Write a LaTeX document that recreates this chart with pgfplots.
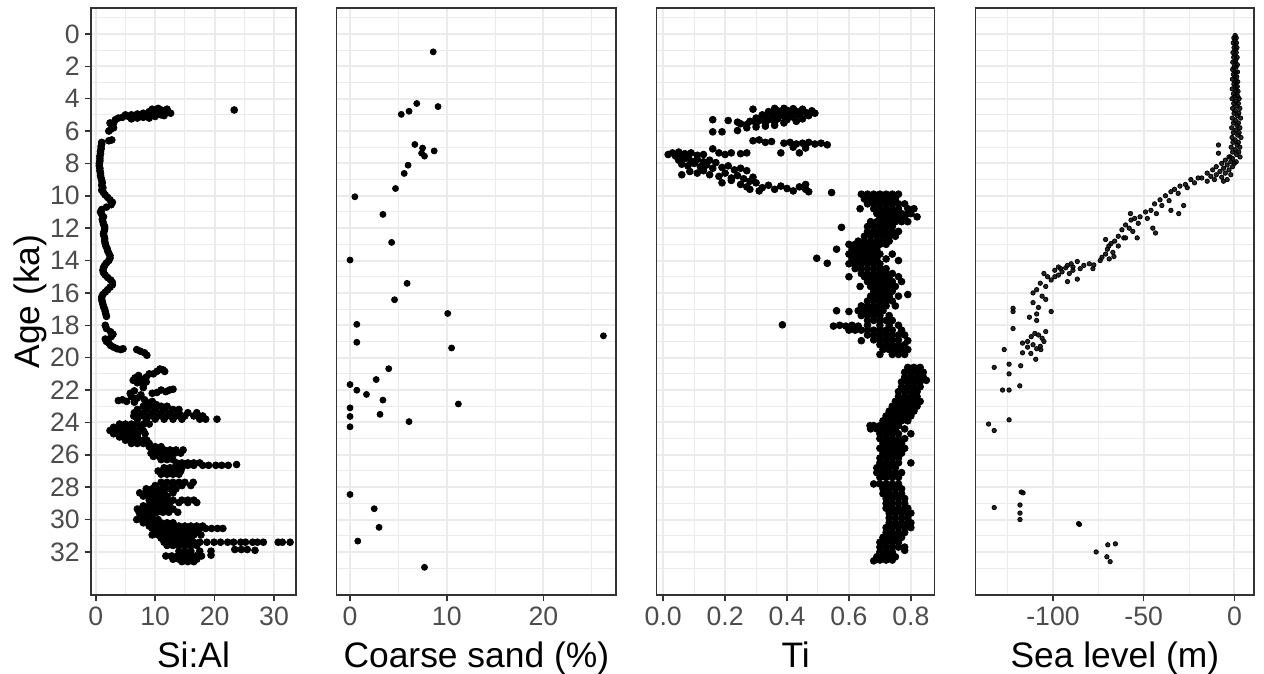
\documentclass[border=0pt]{standalone}
\usepackage{fontspec}
\setmainfont{Liberation Sans}
\usepackage{pgfplots}
\pgfplotsset{compat=1.18}

\definecolor{gridc}{gray}{0.92}
\definecolor{framec}{gray}{0.2}
\definecolor{tickc}{gray}{0.3}

\pgfplotsset{
  panel/.style={
    scale only axis, anchor=south west, height=293.5pt,
    y dir=reverse, ymin=-1.6, ymax=34.66,
    ytick={0,2,...,32}, minor ytick={-1,1,...,33},
    grid=both,
    major grid style={color=gridc, line width=1pt},
    minor grid style={color=gridc, line width=0.5pt},
    axis line style={color=framec, line width=0.75pt},
    tick align=outside, major tick length=3pt, minor tick length=0pt,
    tick style={color=framec, line width=0.75pt},
    xtick pos=bottom, ytick pos=left,
    ticklabel style={font=\fontsize{13.3}{15}\selectfont, text=tickc},
    yticklabel style={inner sep=2.5pt},
    xticklabel style={inner sep=3pt},
    label style={font=\fontsize{17.7}{21}\selectfont},
    xlabel style={at={(axis description cs:0.5,0)}, anchor=base, yshift=-36pt},
    ylabel style={at={([xshift=-30.5pt]axis description cs:0,0.5)}, anchor=center},
  },
  noy/.style={yticklabels={}, ytick style={draw=none}},
  pts/.style={only marks, mark=*, mark size=1.7pt, mark options={draw=none, fill=black}},
}

\begin{document}
\begin{tikzpicture}

% Si:Al
\begin{axis}[panel, at={(45.5pt,39.5pt)}, width=102.5pt,
  xmin=-0.8, xmax=33.7, xtick={0,10,20,30}, xticklabels={0,10,20,30}, minor xtick={5,15,25},
  yticklabels={0,2,4,6,8,10,12,14,16,18,20,22,24,26,28,30,32},
  xlabel={Si:Al}, ylabel={Age (ka)}]
\addplot[pts] coordinates {
(23.3,4.7)
(3.0,5.5)(3.3,5.3)(3.8,5.2)(4.5,5.15)(5.0,5.0)(5.5,5.1)(6.0,5.0)(6.5,5.05)(7.0,4.95)(7.5,5.1)
(8.0,4.9)(8.5,5.0)(9.0,4.8)(9.5,4.9)(10.0,4.75)(10.5,4.85)(11.0,4.7)(11.5,4.8)(12.0,4.75)(12.6,4.9)
(8.0,5.15)(9.0,5.2)(10.0,5.1)(11.0,5.0)(9.5,4.65)(10.5,4.6)(12.0,4.65)(7.0,5.2)(6.0,5.25)(11.5,5.05)
(2.4,5.5)(2.8,5.7)(2.5,5.9)(3.0,5.8)(2.2,6.0)
(2.7,6.55)(1.0,6.7)(2.2,6.6)
(1.0,6.8)(0.9,6.95)(0.9,7.1)(0.8,7.25)(0.8,7.4)(0.7,7.55)(0.7,7.7)(0.7,7.85)(0.6,8.0)(0.6,8.15)
(0.7,8.3)(0.7,8.45)(0.8,8.6)(0.8,8.75)(0.9,8.9)(1.0,9.05)(1.1,9.2)(1.0,9.35)(1.2,9.5)(1.0,9.65)
(1.3,9.8)(1.6,9.95)(2.0,10.1)(2.4,10.25)(2.8,10.4)(2.6,10.55)(1.8,10.7)(1.0,10.85)(0.8,11.0)(1.0,11.15)
(1.3,11.3)(1.1,11.45)(1.2,11.6)(1.3,11.75)(1.5,11.9)(1.5,12.05)(1.4,12.2)(1.3,12.35)(1.4,12.5)(1.5,12.65)
(1.5,12.8)(1.6,12.95)(1.7,13.1)(1.9,13.25)(2.0,13.4)(2.2,13.55)(2.4,13.7)(2.4,13.85)(2.2,14.0)(1.8,14.15)
(1.5,14.3)(1.3,14.45)(1.2,14.6)(1.3,14.75)(1.6,14.9)(2.0,15.05)(2.5,15.2)(2.8,15.35)(2.8,15.5)(2.4,15.65)
(2.0,15.8)(1.6,15.95)(1.2,16.1)(1.0,16.25)(1.0,16.4)(1.1,16.55)(1.2,16.7)(1.3,16.85)(1.5,17.0)(1.6,17.15)
(1.7,17.3)(1.8,17.45)
(1.6,18.0)(1.8,18.2)(2.5,18.4)(2.9,18.55)(2.6,18.7)(1.6,18.85)(1.8,19.0)(2.2,19.1)(2.5,19.25)(3.0,19.35)
(3.6,19.45)(4.2,19.5)(4.6,19.45)
(6.9,19.5)(7.5,19.6)(8.2,19.7)(8.6,19.85)
(9.7,21.0)(10.3,20.85)(10.8,20.7)(11.3,20.75)(11.6,20.85)
(6.3,21.4)(6.6,21.25)(7.0,21.55)(7.5,21.3)(8.0,21.7)(8.5,21.5)(8.0,21.85)(7.2,21.1)(8.5,21.2)(9.0,21.0)
(10.3,22.15)(11.0,22.0)(11.8,22.1)(12.4,22.0)(13.0,21.95)(9.5,22.2)
(3.8,22.65)(4.5,22.6)(5.2,22.7)(6.0,22.4)(6.5,22.75)(7.0,22.5)(7.6,22.3)(8.2,22.6)(8.8,22.8)(9.5,22.7)
(10.2,22.9)(5.8,22.2)(6.5,22.05)
(8,23.0)(9,23.0)(10,23.0)(11,23.0)(12,23.0)
(7,23.2)(8.5,23.2)(10,23.2)(11.5,23.2)(13,23.2)(14,23.2)
(6.5,23.4)(8,23.4)(9.5,23.4)(11,23.4)(12.5,23.4)(14,23.4)(15.5,23.4)(17,23.4)
(6.4,23.6)(7.5,23.6)(9,23.6)(10.5,23.6)(12,23.6)(13.5,23.6)(15,23.6)(16.5,23.6)(18,23.6)
(7,23.8)(8.5,23.8)(10,23.8)(11.5,23.8)(13,23.8)(14.5,23.8)(17.5,23.8)(18.5,23.8)(20.4,23.8)
(4,24.1)(5,24.1)(6,24.1)(7,24.1)(8,24.1)(9,24.1)
(3,24.3)(4,24.3)(5,24.3)(6,24.3)(7.5,24.3)
(2.4,24.5)(3.5,24.5)(4.5,24.5)(5.5,24.5)(6.5,24.5)(8,24.5)
(3,24.7)(4,24.7)(5,24.7)(6,24.7)(7,24.7)(8.3,24.7)
(4,24.9)(5,24.9)(6,24.9)(7,24.9)
(5,25.1)(6,25.1)(7,25.1)(8,25.1)(8.6,25.1)
(6,25.3)(7,25.3)(8,25.3)(9,25.3)
(9,25.5)(10,25.5)(11,25.5)
(9.5,25.7)(10.5,25.7)(11.5,25.7)(12.5,25.7)(13.5,25.7)(14.7,25.7)
(9.3,25.9)(10.3,25.9)(11.3,25.9)(12.3,25.9)(13.3,25.9)(14.3,25.9)
(9.7,26.1)(10.7,26.1)(11.7,26.1)(12.7,26.1)
(11,26.3)(12,26.3)(13,26.3)
(13.6,26.5)(14.5,26.5)(15.5,26.5)(16.5,26.5)(17.5,26.5)
(13.5,26.65)(14.5,26.65)(15.5,26.65)(16.5,26.65)(18.0,26.65)(19.0,26.65)(20.2,26.65)(21.2,26.65)(22.3,26.65)(23.7,26.6)
(11.5,26.8)(12.5,26.8)(14.5,26.8)
(10.5,27.0)(11.5,27.0)(12.5,27.0)(13.5,27.0)(14.3,27.0)
(11,27.2)(12,27.2)(13,27.2)(14,27.2)
(11,27.7)(12,27.7)(13,27.7)(14,27.7)(15,27.7)(16.4,27.7)
(10,27.9)(11.5,27.9)(13,27.9)(14.5,27.9)(16,27.9)
(8.5,28.1)(9.5,28.1)(10.5,28.1)(11.5,28.1)(12.5,28.1)(13.5,28.1)
(7.4,28.35)(8.5,28.35)(9.5,28.35)(10.5,28.35)(11.5,28.35)(13,28.35)
(8,28.55)(9,28.55)(10,28.55)(11,28.55)(12,28.55)
(9,28.8)(10,28.8)(11,28.8)(12,28.8)(13,28.8)(14.5,28.8)(15.5,28.8)(16.5,28.8)
(10,28.95)(11,28.95)(12.5,28.95)(14,28.95)(15.5,28.95)(17,28.95)
(8,29.15)(9,29.15)(10,29.15)(11,29.15)(12,29.15)
(7,29.35)(8,29.35)(9,29.35)(10,29.35)(11,29.35)(12,29.35)(13,29.35)
(7.3,29.55)(8.3,29.55)(9.3,29.55)(10.3,29.55)(11.3,29.55)(12.3,29.55)(13.8,29.55)
(7.5,29.75)(8.5,29.75)(9.5,29.75)
(6.9,30.0)(7.8,30.0)(8.7,30.0)(9.6,30.0)(10.5,30.0)
(8,30.2)(9,30.2)(10,30.2)(11,30.2)(12,30.2)(13,30.2)
(9,30.4)(10,30.4)(11,30.4)(12,30.4)(13,30.4)(14,30.4)(15,30.4)(16,30.4)(17,30.4)(18,30.4)
(9.5,30.55)(10.5,30.55)(11.5,30.55)(12.5,30.55)(13.5,30.55)(14.5,30.55)(15.5,30.55)(16.5,30.55)(17.5,30.55)(18.5,30.55)(19.5,30.55)(20.5,30.55)(21.4,30.55)
(10,30.75)(11,30.75)(12,30.75)(13,30.75)(14,30.75)(15,30.75)(16,30.75)(17,30.75)
(9.5,30.95)(10.5,30.95)(11.5,30.95)(12.5,30.95)(13.5,30.95)(14.5,30.95)(15.5,30.95)(16.5,30.95)(17.7,30.95)
(11,31.15)(12,31.15)(13,31.15)(14,31.15)(15,31.15)(16,31.15)
(11.5,31.4)(12.5,31.4)(13.5,31.4)(14.5,31.4)(15.5,31.4)(16.5,31.4)(17.5,31.4)(18.7,31.4)(19.9,31.4)(21,31.4)
(22.2,31.4)(23.2,31.4)(24.4,31.4)(25.2,31.4)(26.4,31.4)(27.2,31.4)(28.2,31.4)(30.7,31.4)(31.4,31.4)(32.7,31.4)
(12,31.6)(13,31.6)(14,31.6)(15,31.6)(16,31.6)(17,31.6)
(23.4,31.85)(24.5,31.85)(25.5,31.85)(26.8,31.9)
(14,31.95)(15,31.95)(16,31.95)(17.5,31.95)(19.4,31.95)
(11.8,32.25)(12.8,32.25)(13.8,32.25)(14.8,32.25)(15.8,32.25)(16.8,32.25)(17.8,32.25)(19.4,32.2)
(13,32.45)(14,32.45)(15,32.45)(16,32.45)(17,32.45)
(14.5,32.6)(15.5,32.6)(16.5,32.6)
};
\end{axis}

% Coarse sand
\begin{axis}[panel, noy, at={(168.35pt,39.5pt)}, width=139.65pt,
  xmin=-1.38, xmax=27.5, xtick={0,10,20}, xticklabels={0,10,20}, minor xtick={5,15,25},
  xlabel={Coarse sand (\%)}]
\addplot[pts, mark size=1.5pt] coordinates {
(8.6,1.11)(6.9,4.3)(9.1,4.49)(6.1,4.78)(5.3,4.97)(6.7,6.83)(7.5,7.05)(7.4,7.37)(7.7,7.55)(8.7,7.23)
(6.0,8.11)(5.6,8.62)(4.7,9.55)(0.5,10.06)(3.4,11.15)(4.3,12.88)(0.0,13.97)(5.9,15.41)(4.6,16.42)(10.1,17.27)
(0.7,17.94)(26.2,18.65)(0.7,19.05)(10.5,19.4)(4.0,20.68)(2.7,21.35)(0.0,21.66)(0.7,22.01)(1.7,22.27)(3.4,22.62)
(11.2,22.86)(0.0,23.1)(3.1,23.5)(0.0,23.63)(6.1,23.95)(0.0,24.27)(0.0,28.45)(2.5,29.33)(3.0,30.48)(0.8,31.33)
(7.7,32.95)
};
\end{axis}

% Ti
\begin{axis}[panel, noy, at={(328.35pt,39.5pt)}, width=139pt,
  xmin=-0.021, xmax=0.877, xtick={0,0.2,0.4,0.6,0.8}, xticklabels={0.0,0.2,0.4,0.6,0.8},
  minor xtick={0.1,0.3,0.5,0.7}, xlabel={Ti}]
\addplot[pts] coordinates {
(0.29,4.65)(0.36,4.6)(0.39,4.6)(0.42,4.62)(0.45,4.65)(0.48,4.75)
(0.34,4.8)(0.37,4.75)(0.40,4.72)(0.43,4.78)(0.46,4.85)(0.49,4.9)
(0.32,5.0)(0.35,4.95)(0.38,4.9)(0.41,4.95)(0.44,5.0)(0.47,5.05)
(0.30,5.2)(0.33,5.15)(0.36,5.1)(0.39,5.1)(0.42,5.15)(0.45,5.25)
(0.28,5.4)(0.31,5.35)(0.34,5.3)(0.37,5.25)(0.40,5.3)(0.43,5.4)
(0.27,5.6)(0.30,5.55)(0.33,5.5)(0.36,5.45)(0.39,5.5)
(0.27,5.8)(0.30,5.75)(0.33,5.7)(0.36,5.65)
(0.16,5.3)(0.21,5.35)(0.24,5.45)(0.16,6.05)(0.19,6.05)(0.24,5.97)(0.25,5.55)
(0.29,6.6)(0.31,6.55)(0.33,6.7)(0.35,6.65)(0.39,6.75)(0.41,6.7)(0.43,6.8)(0.45,6.75)(0.47,6.7)(0.49,6.8)
(0.51,6.75)(0.53,6.85)(0.38,7.35)(0.44,7.35)(0.42,7.0)(0.46,7.05)
(0.016,7.45)(0.03,7.35)(0.05,7.3)(0.07,7.4)(0.09,7.35)(0.11,7.5)(0.04,7.55)(0.06,7.5)(0.08,7.6)(0.16,7.1)
(0.18,7.35)(0.2,7.45)(0.22,7.35)(0.25,7.4)(0.27,7.35)(0.13,7.45)
(0.05,7.8)(0.07,7.7)(0.09,7.85)(0.11,7.75)(0.13,7.9)(0.15,7.8)(0.17,7.95)(0.06,8.05)(0.08,8.15)(0.1,8.0)
(0.12,8.2)(0.14,8.1)(0.16,8.3)(0.19,8.25)(0.21,8.15)(0.23,8.4)(0.25,8.3)(0.27,8.45)(0.06,8.7)(0.086,8.5)
(0.11,8.6)(0.13,8.45)(0.15,8.7)(0.18,8.8)(0.2,8.6)(0.22,8.9)(0.24,8.75)(0.26,8.95)(0.28,9.1)(0.29,8.85)
(0.19,9.2)(0.22,9.05)(0.25,9.3)(0.27,9.45)(0.3,9.2)(0.32,9.5)(0.34,9.35)(0.36,9.6)(0.38,9.4)(0.4,9.55)
(0.42,9.7)(0.44,9.45)(0.46,9.6)(0.47,9.75)(0.31,9.7)(0.28,9.6)(0.544,9.8)(0.46,9.3)
(0.64,9.9)(0.66,9.9)(0.68,9.9)(0.70,9.9)(0.72,9.9)(0.74,9.9)(0.76,9.9)
(0.65,10.2)(0.67,10.2)(0.69,10.2)(0.71,10.2)(0.73,10.2)(0.75,10.2)
(0.66,10.5)(0.68,10.5)(0.70,10.5)(0.72,10.5)(0.74,10.5)(0.76,10.5)(0.78,10.5)
(0.636,10.8)(0.68,10.8)(0.70,10.8)(0.72,10.8)(0.74,10.8)(0.76,10.8)(0.79,10.8)(0.81,10.8)
(0.69,11.1)(0.71,11.1)(0.73,11.1)(0.75,11.1)(0.77,11.1)(0.79,11.1)(0.80,11.1)
(0.70,11.3)(0.72,11.3)(0.74,11.3)(0.76,11.3)(0.78,11.3)(0.82,11.3)
(0.67,11.6)(0.69,11.6)(0.71,11.6)(0.73,11.6)(0.75,11.6)(0.77,11.6)(0.79,11.6)
(0.66,11.9)(0.68,11.9)(0.70,11.9)(0.72,11.9)(0.74,11.9)(0.576,11.95)
(0.66,12.2)(0.68,12.2)(0.70,12.2)(0.72,12.2)(0.74,12.2)(0.76,12.2)
(0.65,12.5)(0.67,12.5)(0.69,12.5)(0.71,12.5)(0.73,12.5)(0.75,12.5)
(0.63,12.8)(0.65,12.8)(0.67,12.8)(0.69,12.8)(0.71,12.8)(0.73,12.8)
(0.60,13.0)(0.62,13.0)(0.64,13.0)(0.66,13.0)(0.68,13.0)(0.70,13.0)(0.72,13.0)
(0.56,13.3)(0.61,13.3)(0.63,13.3)(0.65,13.3)(0.67,13.3)(0.69,13.3)
(0.60,13.6)(0.62,13.6)(0.64,13.6)(0.66,13.6)(0.68,13.6)(0.70,13.6)(0.74,13.6)
(0.496,13.86)(0.61,13.9)(0.63,13.9)(0.65,13.9)(0.67,13.9)(0.69,13.9)(0.72,13.9)(0.76,14.0)
(0.53,14.17)(0.60,14.2)(0.62,14.2)(0.64,14.2)(0.66,14.2)(0.68,14.2)(0.70,14.2)
(0.62,14.5)(0.64,14.5)(0.66,14.5)(0.68,14.5)(0.70,14.5)(0.72,14.5)
(0.64,14.8)(0.66,14.8)(0.68,14.8)(0.70,14.8)(0.72,14.8)(0.74,14.8)
(0.60,15.0)(0.65,15.0)(0.67,15.0)(0.69,15.0)(0.71,15.0)(0.73,15.0)(0.76,15.0)
(0.66,15.3)(0.68,15.3)(0.70,15.3)(0.72,15.3)(0.74,15.3)(0.77,15.3)
(0.636,15.6)(0.67,15.6)(0.69,15.6)(0.71,15.6)(0.73,15.6)(0.75,15.6)
(0.68,15.9)(0.70,15.9)(0.72,15.9)(0.74,15.9)(0.79,16.1)
(0.67,16.2)(0.69,16.2)(0.71,16.2)(0.73,16.2)(0.76,16.2)
(0.66,16.5)(0.68,16.5)(0.70,16.5)(0.72,16.5)(0.74,16.5)
(0.64,16.8)(0.66,16.8)(0.68,16.8)(0.70,16.8)(0.72,16.8)(0.75,16.8)
(0.56,17.1)(0.60,17.15)(0.63,17.1)(0.65,17.1)(0.67,17.1)(0.69,17.1)(0.71,17.1)
(0.64,17.4)(0.66,17.4)(0.68,17.4)(0.70,17.4)(0.73,17.4)
(0.66,17.7)(0.68,17.7)(0.70,17.7)(0.72,17.7)(0.74,17.7)
(0.385,17.97)(0.55,18.05)(0.57,18.0)(0.59,18.05)(0.61,18.0)(0.63,18.05)(0.66,18.0)(0.70,18.0)(0.73,18.0)(0.76,18.0)
(0.60,18.3)(0.62,18.3)(0.64,18.3)(0.66,18.3)(0.68,18.3)(0.70,18.3)(0.72,18.3)(0.74,18.3)(0.77,18.3)
(0.66,18.6)(0.68,18.6)(0.70,18.6)(0.72,18.6)(0.74,18.6)(0.76,18.6)(0.78,18.6)
(0.64,18.95)(0.68,18.9)(0.70,18.9)(0.72,18.9)(0.74,18.9)(0.76,18.9)(0.79,18.95)
(0.70,19.2)(0.72,19.2)(0.74,19.2)(0.76,19.2)(0.78,19.2)
(0.71,19.5)(0.73,19.5)(0.75,19.5)(0.77,19.5)(0.79,19.5)
(0.70,19.8)(0.74,19.8)(0.76,19.8)(0.78,19.8)
(0.79,20.6)(0.81,20.6)(0.83,20.6)
(0.78,20.9)(0.80,20.9)(0.82,20.9)(0.84,20.9)
(0.78,21.2)(0.80,21.2)(0.82,21.2)(0.84,21.2)
(0.77,21.5)(0.79,21.5)(0.81,21.5)(0.83,21.5)(0.85,21.4)
(0.77,21.8)(0.79,21.8)(0.81,21.8)(0.83,21.8)
(0.76,22.1)(0.78,22.1)(0.80,22.1)(0.82,22.1)
(0.76,22.4)(0.78,22.4)(0.80,22.4)(0.82,22.4)
(0.75,22.7)(0.77,22.7)(0.79,22.7)(0.81,22.7)(0.83,22.7)
(0.74,23.0)(0.76,23.0)(0.78,23.0)(0.80,23.0)(0.82,23.0)
(0.73,23.3)(0.75,23.3)(0.77,23.3)(0.79,23.3)(0.81,23.3)
(0.72,23.6)(0.74,23.6)(0.76,23.6)(0.78,23.6)(0.80,23.6)
(0.71,23.9)(0.73,23.9)(0.75,23.9)(0.77,23.9)(0.79,23.9)
(0.668,24.2)(0.68,24.2)(0.70,24.2)(0.72,24.2)(0.74,24.2)(0.76,24.2)
(0.67,24.4)(0.69,24.4)(0.71,24.4)(0.73,24.4)(0.75,24.4)(0.78,24.4)
(0.70,24.7)(0.72,24.7)(0.74,24.7)(0.76,24.7)(0.80,24.7)
(0.70,25.0)(0.72,25.0)(0.74,25.0)(0.76,25.0)(0.78,25.0)
(0.71,25.3)(0.73,25.3)(0.75,25.3)(0.77,25.3)
(0.70,25.6)(0.72,25.6)(0.74,25.6)(0.76,25.6)(0.78,25.6)
(0.71,25.9)(0.73,25.9)(0.75,25.9)(0.77,25.9)
(0.70,26.2)(0.72,26.2)(0.74,26.2)(0.76,26.2)
(0.70,26.5)(0.72,26.5)(0.74,26.5)(0.76,26.5)(0.80,26.5)
(0.69,26.8)(0.71,26.8)(0.73,26.8)(0.75,26.8)
(0.69,27.1)(0.71,27.1)(0.73,27.1)(0.75,27.1)(0.77,27.1)
(0.70,27.4)(0.72,27.4)(0.74,27.4)(0.76,27.4)
(0.68,27.8)(0.70,27.8)(0.72,27.8)(0.74,27.8)(0.76,27.8)
(0.71,28.1)(0.73,28.1)(0.75,28.1)(0.77,28.1)
(0.71,28.4)(0.73,28.4)(0.75,28.4)(0.77,28.4)
(0.72,28.7)(0.74,28.7)(0.76,28.7)(0.78,28.7)
(0.72,29.0)(0.74,29.0)(0.76,29.0)(0.78,29.0)
(0.72,29.3)(0.74,29.3)(0.76,29.3)(0.78,29.3)(0.79,29.3)
(0.73,29.6)(0.75,29.6)(0.77,29.6)(0.79,29.6)(0.80,29.6)
(0.73,29.9)(0.75,29.9)(0.77,29.9)(0.79,29.9)
(0.73,30.2)(0.75,30.2)(0.77,30.2)(0.79,30.2)(0.80,30.2)
(0.72,30.5)(0.74,30.5)(0.76,30.5)(0.78,30.5)(0.80,30.5)
(0.72,30.8)(0.74,30.8)(0.76,30.8)(0.78,30.8)
(0.71,31.1)(0.73,31.1)(0.75,31.1)(0.77,31.1)
(0.70,31.4)(0.72,31.4)(0.74,31.4)(0.76,31.4)
(0.70,31.7)(0.72,31.7)(0.74,31.7)(0.76,31.7)(0.78,31.7)
(0.70,32.0)(0.72,32.0)(0.74,32.0)(0.78,31.9)
(0.69,32.3)(0.71,32.3)(0.73,32.3)(0.75,32.3)
(0.68,32.55)(0.70,32.5)(0.72,32.5)(0.74,32.5)
};
\end{axis}

% Sea level
\begin{axis}[panel, noy, at={(487.85pt,39.5pt)}, width=139.15pt,
  xmin=-142.6, xmax=10.8, xtick={-100,-50,0}, xticklabels={-100,-50,0},
  minor xtick={-125,-75,-25}, xlabel={Sea level (m)}]
\addplot[pts, mark size=1.1pt, mark options={fill opacity=0.85}] coordinates {
(0.4,0.1)(-0.3,0.25)(1.0,0.25)(0.3,0.4)(-0.6,0.55)(1.1,0.55)(0.5,0.7)(-0.2,0.85)(1.4,0.85)(0.6,1.0)
(-0.8,1.15)(1.0,1.15)(0.2,1.3)(-0.4,1.45)(1.5,1.45)(0.8,1.6)(-0.9,1.75)(0.4,1.75)(1.6,1.9)(-0.2,2.05)
(0.9,2.05)(-1.0,2.2)(0.5,2.35)(1.7,2.35)(-0.5,2.5)(0.2,2.65)(1.3,2.65)(-1.1,2.8)(0.7,2.95)(1.8,2.95)
(-0.3,3.1)(0.4,3.25)(1.6,3.25)(-1.2,3.4)(0.9,3.55)(2.0,3.55)(-0.5,3.7)(0.3,3.85)(1.8,3.85)(-1.3,4.0)
(2.6,4.0)(0.8,4.15)(-0.4,4.3)(2.2,4.3)(1.3,4.45)(-1.0,4.6)(3.0,4.6)(0.5,4.75)(-0.2,4.9)(2.4,4.9)
(1.6,5.05)(-1.2,5.2)(3.4,5.2)(0.6,5.35)(-0.5,5.5)(2.2,5.5)(1.4,5.65)(-1.5,5.8)(3.0,5.8)(0.8,5.95)
(-0.6,6.1)(2.6,6.1)(1.8,6.25)(-1.3,6.4)(3.6,6.4)(0.4,6.55)(-0.8,6.7)(2.2,6.7)(1.5,6.85)(-1.8,7.0)
(3.0,7.0)(0.5,7.15)(-1.0,7.3)(2.4,7.3)(1.2,7.45)(-2.4,7.6)(3.1,7.6)
(-8.8,6.86)(-8.8,7.37)(-3,7.6)(-5,7.8)(-2,7.9)(-7,8.0)(-4,8.1)(-10,8.2)(-1,8.2)(-6,8.3)
(-12,8.4)(-3,8.4)(-8,8.5)(-15,8.6)(-5,8.6)(-10,8.7)(-2,8.7)(-13,8.8)(-7,8.85)(-18,8.9)
(-4,9.0)(-11,9.0)(0,8.0)(1,7.9)(-1,7.7)(-6,9.1)(-15,9.1)
(-20,8.9)(-24,9.0)(-22,9.2)(-27,9.3)(-30,9.4)(-26,9.5)(-33,9.6)(-35,9.75)(-31,9.85)(-38,10.0)
(-41,10.25)(-36,10.3)(-44,10.5)(-40,10.6)(-46,10.9)(-49,11.0)(-43,11.1)(-52,11.3)(-48,11.4)(-55,11.4)
(-57,11.5)(-53,11.7)(-60,11.8)(-58,12.0)(-62,12.1)(-56,12.2)(-64,12.5)(-61,12.6)(-66,12.8)(-68,12.95)
(-64,13.1)(-70,13.3)(-67,13.5)(-71,13.6)(-73,13.8)(-69,13.9)(-74,14.0)
(-30.7,11.1)(-43.5,12.3)(-53.6,12.6)(-57.3,11.1)(-66.4,13.75)(-28,10.6)(-35,10.9)(-45,12.0)(-60,12.6)
(-71,12.7)(-69.2,13.1)
(-77.5,14.27)(-80,14.2)(-83,14.3)(-86.6,14.06)(-89,14.4)(-92,14.3)(-95.8,14.5)(-85,14.5)(-78,14.5)(-90,14.2)
(-93,14.45)(-99,14.6)(-97,14.4)(-95,14.7)(-91,14.8)(-89,14.6)
(-105,14.8)(-103,15.0)(-101,15.2)(-99,15.0)(-97,14.9)(-92,15.3)(-86.6,15.15)(-107,15.4)(-104,15.6)(-109,15.8)
(-111,16.0)(-106,16.2)(-104,16.4)
(-111,16.6)(-108,16.9)(-101,17.15)(-122,16.95)(-122,17.15)(-109,17.3)(-109,17.7)(-113,17.5)
(-104,18.39)(-122,18.2)(-110,18.5)(-108,18.6)(-106,18.8)(-112,18.7)(-114,19.0)(-116.8,19.1)(-105,19.0)(-107,19.3)
(-109,19.45)(-126.9,19.5)(-106.7,19.5)(-116.8,19.7)(-112.2,19.74)(-109.5,20.1)(-114,19.35)(-111,19.2)
(-132.4,20.6)(-124.2,20.4)(-124.2,21.0)(-117.8,20.5)(-127.8,22.0)(-124.2,22.0)(-118.3,21.74)
(-124.2,23.84)(-135.5,24.1)(-132.4,24.5)
(-117.5,28.3)(-116.5,28.35)(-132.4,29.26)(-118.2,29.1)(-118.2,29.6)(-118.2,30.0)(-85.9,30.25)(-85.4,30.3)
(-69.8,31.56)(-65.6,31.5)(-76.2,32.0)(-70.3,32.3)(-68.5,32.6)
};
\end{axis}

\pgfresetboundingbox
\path[use as bounding box] (0,0) rectangle (632pt,337pt);
\end{tikzpicture}
\end{document}
